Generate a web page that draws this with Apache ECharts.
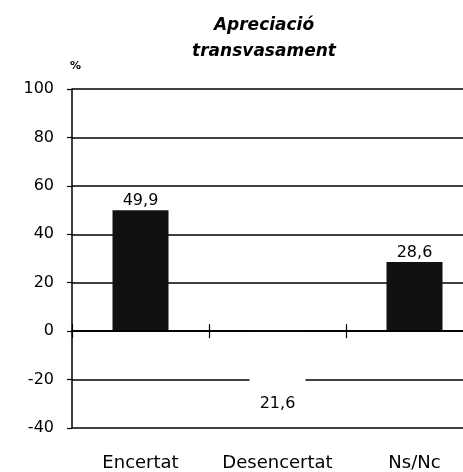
<!DOCTYPE html>
<html>
<head>
<meta charset="utf-8">
<script src="https://cdn.jsdelivr.net/npm/echarts@6/dist/echarts.min.js"></script>
<style>
  html, body { margin: 0; padding: 0; background: #fff; }
  #chart { width: 463px; height: 472px; }
</style>
</head>
<body>
<div id="chart"></div>
<script>
// dades del gràfic
var categories = ['Encertat', 'Desencertat', 'Ns/Nc'];
var values = [49.9, -21.6, 28.6];
var barColors = ['#111111', '#ffffff', '#111111'];
var yTicks = [-40, -20, 0, 20, 40, 60, 80, 100];

var chart = echarts.init(document.getElementById('chart'));

var barData = values.map(function (v, i) {
  return {
    value: v,
    itemStyle: { color: barColors[i] },
    label: v < 0 ? { position: 'bottom', distance: 12 } : { position: 'top', distance: 1 }
  };
});

var gridBox = { left: 72, width: 411, top: 89, bottom: 44, outerBoundsMode: 'none' };

var option = {
  backgroundColor: '#ffffff',
  animation: false,
  textStyle: { fontFamily: 'DejaVu Sans' },
  title: {
    text: 'Apreciació\ntransvasament',
    left: 259,
    top: 8,
    textAlign: 'center',
    textStyle: {
      fontFamily: 'DejaVu Sans',
      fontSize: 17,
      fontWeight: 'bold',
      fontStyle: 'italic',
      color: '#000',
      lineHeight: 26
    }
  },
  graphic: [{
    type: 'text',
    left: 70,
    top: 61,
    style: { text: '%', fontFamily: 'DejaVu Sans', fontSize: 11, fontWeight: 'bold', fill: '#000' }
  }],
  grid: [
    Object.assign({}, gridBox),
    Object.assign({}, gridBox)
  ],
  xAxis: [
    {
      // etiquetes a baix
      type: 'category',
      gridIndex: 0,
      data: categories,
      position: 'bottom',
      axisLine: { show: false, onZero: false },
      axisTick: { show: false },
      axisLabel: { margin: 26, fontSize: 18, color: '#000', fontFamily: 'DejaVu Sans', interval: 0, hideOverlap: false }
    },
    {
      // línia del zero amb marques cap avall
      type: 'category',
      gridIndex: 0,
      data: categories,
      position: 'top',
      zlevel: 1,
      axisLine: { show: true, onZero: true, lineStyle: { color: '#000', width: 1.5 } },
      axisTick: { show: true, inside: true, length: 7, lineStyle: { color: '#000', width: 1.2 } },
      axisLabel: { show: false }
    },
    {
      // marques cap amunt
      type: 'category',
      gridIndex: 1,
      data: categories,
      position: 'bottom',
      zlevel: 1,
      axisLine: { show: true, onZero: true, lineStyle: { color: '#000', width: 1.5 } },
      axisTick: { show: true, inside: true, length: 7, lineStyle: { color: '#000', width: 1.2 } },
      axisLabel: { show: false }
    }
  ],
  yAxis: [
    {
      type: 'value',
      gridIndex: 0,
      min: yTicks[0],
      max: yTicks[yTicks.length - 1],
      interval: 20,
      axisLine: { show: true, lineStyle: { color: '#000', width: 1.5 } },
      axisTick: { show: true, length: 5, lineStyle: { color: '#000', width: 1.2 } },
      axisLabel: { margin: 18, fontSize: 16, color: '#000', fontFamily: 'DejaVu Sans' },
      splitLine: { show: true, lineStyle: { color: '#000', width: 1.5 } }
    },
    {
      type: 'value',
      gridIndex: 1,
      min: yTicks[0],
      max: yTicks[yTicks.length - 1],
      interval: 20,
      show: false
    }
  ],
  series: [{
    type: 'bar',
    xAxisIndex: 0,
    yAxisIndex: 0,
    data: barData,
    barWidth: 56,
    label: {
      show: true,
      fontSize: 16,
      color: '#000',
      fontFamily: 'DejaVu Sans',
      formatter: function (p) {
        return Math.abs(p.value).toFixed(1).replace('.', ',');
      }
    }
  }]
};

chart.setOption(option);
</script>
</body>
</html>
